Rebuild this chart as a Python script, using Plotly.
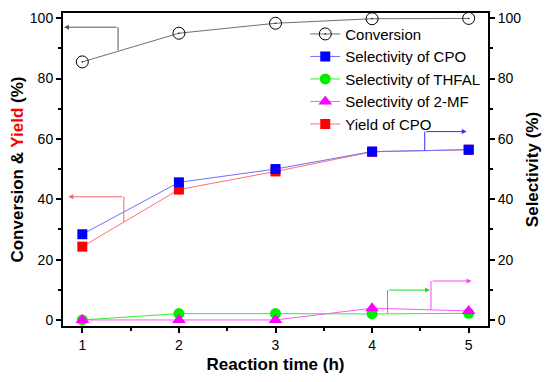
import plotly.graph_objects as go

time_h = [1, 2, 3, 4, 5]
conversion = [85.5, 95.0, 98.3, 99.8, 99.9]
sel_cpo = [28.4, 45.6, 50.0, 55.8, 56.4]
sel_thfal = [0.0, 2.1, 2.1, 2.0, 2.2]
sel_2mf = [0.0, 0.0, 0.0, 3.9, 3.0]
yield_cpo = [24.3, 43.2, 49.2, 55.7, 56.4]

FONT = "Liberation Sans, Arial, sans-serif"

fig = go.Figure()
fig.add_trace(go.Scatter(x=time_h, y=conversion, name="Conversion", mode="lines+markers",
                         line=dict(color="#707070", width=1),
                         marker=dict(symbol="circle-open-dot", size=12, color="black", line=dict(width=1))))
fig.add_trace(go.Scatter(x=time_h, y=sel_cpo, name="Selectivity of CPO", mode="lines+markers", yaxis="y2",
                         line=dict(color="#6f6fff", width=1),
                         marker=dict(symbol="square", size=10, color="#0000ff")))
fig.add_trace(go.Scatter(x=time_h, y=sel_thfal, name="Selectivity of THFAL", mode="lines+markers", yaxis="y2",
                         line=dict(color="#33ee33", width=1),
                         marker=dict(symbol="circle", size=11, color="#00ee00")))
fig.add_trace(go.Scatter(x=time_h, y=sel_2mf, name="Selectivity of 2-MF", mode="lines+markers", yaxis="y2",
                         line=dict(color="#ff55ff", width=1),
                         marker=dict(symbol="triangle-up", size=12, color="#ff00ff")))
fig.add_trace(go.Scatter(x=time_h, y=yield_cpo, name="Yield of CPO", mode="lines+markers",
                         line=dict(color="#ff7070", width=1),
                         marker=dict(symbol="square", size=10, color="#ff0000")))

# axis-pointer arrows (vertical segment + horizontal arrow)
arrows = [
    # x_vert, y_start, y_turn, x_tip, color, yref
    (1.37, 89.4, 97.0, 0.81, "#555555", "y"),
    (1.43, 32.5, 40.8, 0.855, "#ff6060", "y"),
    (4.545, 56.1, 62.4, 4.98, "#3030ff", "y2"),
    (4.16, 2.3, 9.9, 4.6, "#22dd22", "y2"),
    (4.61, 3.3, 12.9, 5.03, "#ff40ff", "y2"),
]
for xv, y0, y1, xt, col, yr in arrows:
    fig.add_shape(type="line", xref="x", yref=yr, x0=xv, x1=xv, y0=y0, y1=y1,
                  line=dict(color=col, width=1))
    fig.add_annotation(x=xt, y=y1, ax=xv, ay=y1, xref="x", yref=yr, axref="x", ayref=yr,
                       showarrow=True, arrowhead=2, arrowsize=1, arrowwidth=1, arrowcolor=col, text="")

rng = [-2.0, 101.7]
tickfont = dict(size=14, family=FONT)
fig.update_layout(
    width=534, height=366,
    margin=dict(l=55, r=54, t=5, b=48, autoexpand=False),
    paper_bgcolor="white", plot_bgcolor="white",
    font=dict(family=FONT, size=15, color="black"),
    showlegend=True,
    legend=dict(x=0.570, y=0.985, xanchor="left", yanchor="top", bgcolor="rgba(0,0,0,0)",
                font=dict(size=15, family=FONT), tracegroupgap=0, itemwidth=30),
    xaxis=dict(range=[0.8, 5.2], tickmode="array", tickvals=time_h, ticktext=[str(t) for t in time_h],
               ticks="outside", ticklen=5, tickwidth=1.5, tickcolor="black", tickfont=tickfont,
               minor=dict(dtick=0.5, tick0=0.5, ticks="outside", ticklen=3, tickcolor="black", tickwidth=1.5),
               showline=True, linecolor="black", linewidth=2, mirror=True, showgrid=False, zeroline=False,
               automargin=False,
               title=dict(text="<b>Reaction time (h)</b>", font=dict(size=17, family=FONT), standoff=6)),
    yaxis=dict(range=rng, tickmode="linear", tick0=0, dtick=20, tickfont=tickfont,
               ticks="outside", ticklen=5, tickwidth=1.5, tickcolor="black",
               minor=dict(dtick=10, tick0=0, ticks="outside", ticklen=3, tickcolor="black", tickwidth=1.5),
               showline=True, linecolor="black", linewidth=2, mirror=True, showgrid=False, zeroline=False,
               automargin=False,
               title=dict(text="<b>Conversion & <span style='color:#ff0000'>Yield</span> (%)</b>",
                          font=dict(size=17, family=FONT), standoff=6)),
    yaxis2=dict(range=rng, overlaying="y", side="right", tickmode="linear", tick0=0, dtick=20, tickfont=tickfont,
                ticks="outside", ticklen=5, tickwidth=1.5, tickcolor="black",
                minor=dict(dtick=10, tick0=0, ticks="outside", ticklen=3, tickcolor="black", tickwidth=1.5),
                showline=True, linecolor="black", linewidth=2, showgrid=False, zeroline=False,
                automargin=False,
                title=dict(text="<b>Selectivity (%)</b>", font=dict(size=17, family=FONT), standoff=6)),
)

fig.write_html("out.html")
